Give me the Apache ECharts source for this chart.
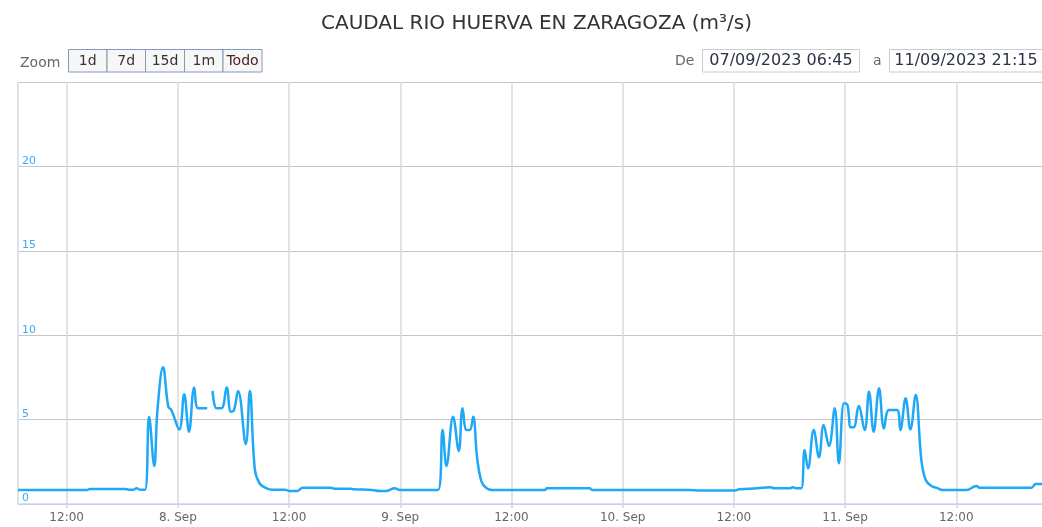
<!DOCTYPE html>
<html>
<head>
    <meta charset="utf-8">
    <title>Caudal Rio Huerva en Zaragoza</title>
    <script src="https://cdn.jsdelivr.net/npm/echarts@6.0.0/dist/echarts.min.js"></script>
    <style>
        html, body { margin: 0; padding: 0; background: #fff; }
        #chart-container { width: 1042px; height: 527px; }
    </style>
</head>
<body>
<div id="chart-container"></div>

<script>
    // datos (m³/s), null = hueco en la serie
    var times = [
        '2023-09-07 06:45', '2023-09-07 10:00', '2023-09-07 14:12', '2023-09-07 14:30',
        '2023-09-07 18:18', '2023-09-07 18:42', '2023-09-07 19:12', '2023-09-07 19:33',
        '2023-09-07 19:54', '2023-09-07 20:27', '2023-09-07 20:54', '2023-09-07 21:27',
        '2023-09-07 21:48', '2023-09-07 22:24', '2023-09-07 22:58', '2023-09-07 23:18',
        '2023-09-08 00:09', '2023-09-08 00:41', '2023-09-08 01:12', '2023-09-08 01:46',
        '2023-09-08 02:12', '2023-09-08 03:10', '2023-09-08 03:27', '2023-09-08 03:45',
        '2023-09-08 04:11', '2023-09-08 04:43', '2023-09-08 05:16', '2023-09-08 05:43',
        '2023-09-08 06:00', '2023-09-08 06:30', '2023-09-08 07:20', '2023-09-08 07:46',
        '2023-09-08 08:19', '2023-09-08 08:51', '2023-09-08 09:34', '2023-09-08 10:12',
        '2023-09-08 11:33', '2023-09-08 12:06', '2023-09-08 12:51', '2023-09-08 13:30',
        '2023-09-08 16:30', '2023-09-08 17:00', '2023-09-08 18:36', '2023-09-08 19:00',
        '2023-09-08 20:56', '2023-09-08 21:48', '2023-09-08 22:27', '2023-09-08 23:24',
        '2023-09-08 23:58', '2023-09-09 04:04', '2023-09-09 04:34', '2023-09-09 04:59',
        '2023-09-09 05:42', '2023-09-09 06:19', '2023-09-09 06:43', '2023-09-09 07:09',
        '2023-09-09 07:30', '2023-09-09 07:52', '2023-09-09 08:17', '2023-09-09 08:46',
        '2023-09-09 09:19', '2023-09-09 09:54', '2023-09-09 15:36', '2023-09-09 15:48',
        '2023-09-09 20:27', '2023-09-09 20:42', '2023-09-10 07:14', '2023-09-10 08:18',
        '2023-09-10 12:06', '2023-09-10 12:36', '2023-09-10 14:30', '2023-09-10 15:54',
        '2023-09-10 16:24', '2023-09-10 18:00', '2023-09-10 18:21', '2023-09-10 18:48',
        '2023-09-10 19:16', '2023-09-10 19:38', '2023-09-10 20:00', '2023-09-10 20:37',
        '2023-09-10 21:11', '2023-09-10 21:41', '2023-09-10 22:16', '2023-09-10 22:53',
        '2023-09-10 23:20', '2023-09-10 23:53', '2023-09-11 00:15', '2023-09-11 00:37',
        '2023-09-11 00:56', '2023-09-11 01:28', '2023-09-11 02:07', '2023-09-11 02:35',
        '2023-09-11 03:05', '2023-09-11 03:40', '2023-09-11 04:12', '2023-09-11 04:44',
        '2023-09-11 05:36', '2023-09-11 05:58', '2023-09-11 06:32', '2023-09-11 07:03',
        '2023-09-11 07:37', '2023-09-11 08:14', '2023-09-11 08:42', '2023-09-11 09:19',
        '2023-09-11 10:01', '2023-09-11 10:30', '2023-09-11 13:05', '2023-09-11 14:10',
        '2023-09-11 14:31', '2023-09-11 20:06', '2023-09-11 20:34', '2023-09-11 21:15'
    ];
    var caudal = [
        0.83, 0.83, 0.83, 0.89,
        0.89, 0.85, 0.85, 0.94,
        0.85, 0.85, 5.17, 2.25,
        5.57, 8.10, 5.77, 5.57,
        4.42, 6.50, 4.28, 6.90,
        5.67, 5.67, null, 6.70,
        5.67, 5.67, 6.90, 5.47,
        5.50, 6.70, 3.55, 6.70,
        2.00, 1.20, 0.93, 0.85,
        0.85, 0.77, 0.77, 0.96,
        0.96, 0.90, 0.90, 0.87,
        0.83, 0.77, 0.77, 0.93,
        0.83, 0.83, 4.38, 2.25,
        5.17, 3.14, 5.67, 4.38,
        4.38, 5.17, 2.80, 1.32,
        0.93, 0.83, 0.83, 0.93,
        0.93, 0.83, 0.83, 0.80,
        0.80, 0.87, 0.93, 0.99,
        0.93, 0.93, 0.99, 0.93,
        0.93, 3.20, 2.11, 4.38,
        2.77, 4.68, 3.44, 5.67,
        2.41, 5.97, 5.87, 4.54,
        4.54, 5.80, 4.38, 6.65,
        4.28, 6.85, 4.48, 5.57,
        5.57, 4.38, 6.26, 4.42,
        6.46, 2.60, 1.42, 1.07,
        0.93, 0.83, 0.83, 1.07,
        0.97, 0.97, 1.18, 1.18
    ];
    var yTicks = [0, 5, 10, 15, 20, 25];
    var zoomButtons = ['1d', '7d', '15d', '1m', 'Todo'];
    var fechaDe = '07/09/2023 06:45';
    var fechaA = '11/09/2023 21:15';
    var inicio = '2023-09-07 06:45';
    var fin = '2023-09-11 21:15';

    // eje x en medios días desde el 07/09 00:00 (así las marcas caen a las 00:00 y 12:00)
    var MEDIO_DIA = 12 * 3600 * 1000;
    var base = new Date('2023-09-07T00:00:00').getTime();
    function aMedioDia(s) {
        return (new Date(s.replace(' ', 'T') + ':00').getTime() - base) / MEDIO_DIA;
    }
    var seriesData = times.map(function (t, i) {
        return [aMedioDia(t), caudal[i]];
    });

    var myChart = echarts.init(document.getElementById('chart-container'));

    var FONT = '"DejaVu Sans", Verdana, sans-serif';

    // barra de zoom y fechas (solo decorativo)
    var graphics = [
        { type: 'text', x: 20, y: 63, style: { text: 'Zoom', fill: '#666', font: '14px ' + FONT, verticalAlign: 'middle' } }
    ];
    var bx = 68, bw = [38.5, 38.5, 39, 38.5, 39];
    zoomButtons.forEach(function (b, i) {
        graphics.push({
            type: 'rect', shape: { x: bx + 0.5, y: 49.5, width: bw[i], height: 22.5 },
            style: { fill: '#f7f7f7', stroke: '#8499b8', lineWidth: 1 }
        });
        graphics.push({
            type: 'text', x: bx + 0.5 + bw[i] / 2, y: 61,
            style: {
                text: b, fill: b === 'Todo' ? '#4a2020' : '#333',
                font: '14px ' + FONT, align: 'center', verticalAlign: 'middle'
            }
        });
        bx += bw[i];
    });
    graphics.push(
        { type: 'text', x: 675, y: 61, style: { text: 'De', fill: '#666', font: '14px ' + FONT, verticalAlign: 'middle' } },
        { type: 'rect', shape: { x: 702.5, y: 49.5, width: 157, height: 22.5 }, style: { fill: '#fff', stroke: '#cccccc', lineWidth: 1 } },
        { type: 'text', x: 781, y: 61, style: { text: fechaDe, fill: '#2b3346', font: '16px ' + FONT, align: 'center', verticalAlign: 'middle' } },
        { type: 'text', x: 873, y: 61, style: { text: 'a', fill: '#666', font: '14px ' + FONT, verticalAlign: 'middle' } },
        { type: 'rect', shape: { x: 889.5, y: 49.5, width: 157, height: 22.5 }, style: { fill: '#fff', stroke: '#cccccc', lineWidth: 1 } },
        { type: 'text', x: 966, y: 61, style: { text: fechaA, fill: '#2b3346', font: '16px ' + FONT, align: 'center', verticalAlign: 'middle' } }
    );

    var option = {
        animation: false,
        title: {
            text: 'CAUDAL RIO HUERVA EN ZARAGOZA (m³/s)',
            left: 316,
            top: 9,
            textStyle: { fontSize: 20, fontWeight: 'normal', color: '#333', fontFamily: FONT }
        },
        graphic: graphics,
        grid: { left: 18, right: 0, top: 82, bottom: 23 },
        xAxis: {
            type: 'value',
            min: aMedioDia(inicio),
            max: aMedioDia(fin),
            minInterval: 1,
            maxInterval: 1,
            splitNumber: 9,
            axisLine: { show: true, lineStyle: { color: '#ccd6eb', width: 1.5 } },
            axisTick: { show: true, length: 4, lineStyle: { color: '#d6d6d6', width: 1.5 } },
            splitLine: { show: true, showMaxLine: false, lineStyle: { color: '#d9d9d9', width: 1.5 } },
            axisLabel: {
                color: '#666',
                fontSize: 12,
                margin: 8,
                fontFamily: FONT,
                showMinLabel: false,
                showMaxLabel: false,
                formatter: function (v) {
                    var n = Math.round(v);
                    if (Math.abs(v - n) > 1e-6) return '';
                    if (n % 2 === 0) return (7 + n / 2) + '. Sep';
                    return '12:00';
                }
            }
        },
        yAxis: {
            type: 'value',
            min: yTicks[0],
            max: yTicks[yTicks.length - 1],
            interval: 5,
            axisLine: { show: true, lineStyle: { color: '#dde3ee', width: 1 } },
            axisTick: { show: false },
            splitLine: { lineStyle: { color: '#c6c6c6', width: 1 } },
            axisLabel: {
                inside: true,
                margin: 4,
                verticalAlign: 'bottom',
                color: '#3ea8f2',
                fontSize: 11,
                fontFamily: FONT,
                showMaxLabel: false
            }
        },
        series: [{
            name: 'Caudal',
            type: 'line',
            data: seriesData,
            smooth: 0.4,
            connectNulls: false,
            showSymbol: false,
            lineStyle: { color: '#1ea8f5', width: 2.5 },
            itemStyle: { color: '#1ea8f5' }
        }]
    };

    myChart.setOption(option);
</script>
</body>
</html>
